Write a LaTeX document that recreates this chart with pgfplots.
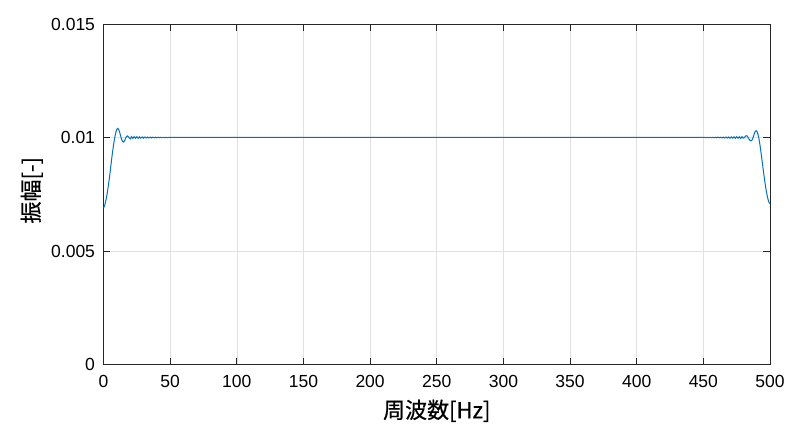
\documentclass[border=0pt]{standalone}
\usepackage{pgfplots}
\pgfplotsset{compat=1.18}
\usepackage{fontspec}
\setmainfont{Liberation Sans}
\newfontfamily\cjk[FakeBold=0.6]{Noto Sans CJK JP}
\definecolor{axgray}{RGB}{38,38,38}
\definecolor{gridgray}{RGB}{225,225,225}
\definecolor{mblue}{RGB}{0,114,189}
\begin{document}
\begin{tikzpicture}
\begin{axis}[
  scale only axis, width=666.5bp, height=340.5bp,
  xmin=0, xmax=500, ymin=0, ymax=0.015,
  xtick={0,50,100,150,200,250,300,350,400,450,500},
  xticklabels={0,50,100,150,200,250,300,350,400,450,500},
  ytick={0,0.005,0.01,0.015},
  yticklabels={0,0.005,0.01,0.015},
  /pgf/number format/assume math mode=true,
  scaled ticks=false,
  tick align=inside, major tick length=6.7bp,
  grid=major, grid style={color=gridgray, line width=0.6bp},
  axis line style={color=axgray, line width=0.7bp},
  tick style={color=axgray, line width=0.7bp},
  ticklabel style={font=\fontsize{17.5bp}{21bp}\selectfont, text=black},
  xticklabel style={yshift=-7.5bp},
  yticklabel style={xshift=-5bp},
]
\coordinate (bl) at (rel axis cs:0,0);
\coordinate (xl) at (rel axis cs:0.5,0);
\coordinate (yl) at (rel axis cs:0,0.5);
\addplot[mblue, line width=1bp] coordinates {
(0,0.00690) (0.75,0.00698) (1.5,0.00715) (2.25,0.00736) (3,0.00762) (3.75,0.00792)
(4.5,0.00826) (5.25,0.00862) (6,0.00899) (6.75,0.00934) (7.5,0.00966) (8.25,0.00994)
(9,0.01016) (9.75,0.01032) (10.5,0.01040) (11.25,0.01037) (12,0.01026) (12.75,0.01009)
(13.5,0.00993) (14.25,0.00983) (15,0.00980) (15.75,0.00985) (16.5,0.00996) (17.25,0.01004)
(18,0.01007) (18.75,0.01003) (19.5,0.00997) (20.25,0.00994)
(21,0.01004) (22,0.00996) (23,0.01004) (24,0.00996) (25,0.010035) (26,0.009965)
(27,0.01003) (28,0.00997) (29,0.010028) (30,0.009972) (31,0.010025) (32,0.009975)
(33,0.010022) (34,0.009978) (35,0.01002) (36,0.009981) (37,0.010017) (38,0.009984)
(39,0.010015) (40,0.009986) (41,0.010012) (42,0.009989) (43,0.01001) (44,0.009992)
(45,0.010007) (46,0.009994) (47,0.010005) (48,0.009996) (49,0.010003) (50,0.01)
(100,0.01) (150,0.01) (200,0.01) (250,0.01) (300,0.01) (350,0.01) (400,0.01) (450,0.01)
(451,0.010003) (452,0.009996) (453,0.010005) (454,0.009994) (455,0.010007) (456,0.009992)
(457,0.01001) (458,0.009989) (459,0.010012) (460,0.009986) (461,0.010015) (462,0.009984)
(463,0.010017) (464,0.009981) (465,0.01002) (466,0.009978) (467,0.010022) (468,0.009975)
(469,0.010025) (470,0.009972) (471,0.010028) (472,0.00997) (473,0.01003) (474,0.009967)
(475,0.010033) (476,0.009965) (477,0.010035) (478,0.009963) (479,0.01004)
(479.75,0.00997) (480.5,0.00998) (481.25,0.01003) (482,0.01008) (482.75,0.01007)
(483.5,0.01001) (484.25,0.00993) (485,0.00987) (485.75,0.00985) (486.5,0.00989)
(487.25,0.00999) (488,0.01013) (488.75,0.01025) (489.5,0.01030) (490.25,0.01026)
(491,0.01013) (491.75,0.00993) (492.5,0.00966) (493.25,0.00934) (494,0.00900)
(494.75,0.00866) (495.5,0.00832) (496.25,0.00800) (497,0.00772) (497.75,0.00748)
(498.5,0.00728) (499.25,0.00714) (500,0.00708)
};
\end{axis}
\node[anchor=north, inner sep=0pt, font=\cjk\fontsize{22bp}{26bp}\selectfont] at ([yshift=-35bp]xl) {周波数[Hz]};
\node[anchor=south, rotate=90, inner sep=0pt, font=\cjk\fontsize{22bp}{26bp}\selectfont] at ([xshift=-60.5bp,yshift=4bp]yl) {振幅[-]};
\pgfresetboundingbox
\path[use as bounding box] ([xshift=-103.5bp,yshift=-69.5bp]bl) rectangle ++(800bp,434bp);
\end{tikzpicture}
\end{document}
